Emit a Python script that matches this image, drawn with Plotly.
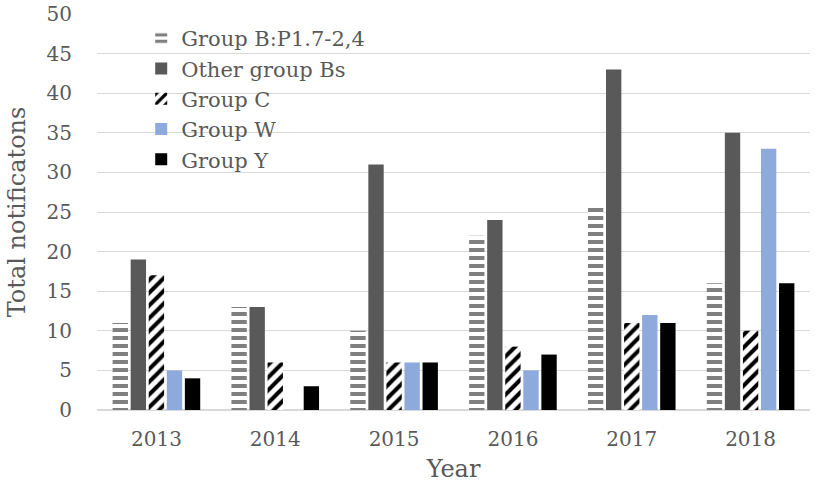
import plotly.graph_objects as go

years = ["2013", "2014", "2015", "2016", "2017", "2018"]
group_b_p17 = [11, 13, 10, 22, 26, 16]
other_group_bs = [19, 13, 31, 24, 43, 35]
group_c = [17, 6, 6, 8, 11, 10]
group_w = [5, 0, 6, 5, 12, 33]
group_y = [4, 3, 6, 7, 11, 16]

FONT = "DejaVu Serif"
TXT = "#595959"

fig = go.Figure()
fig.add_trace(go.Bar(
    name="Group B:P1.7-2,4", x=years, y=group_b_p17, legendgroup="a",
    marker=dict(color="white", line=dict(width=0),
                pattern=dict(shape="-", fgcolor="#808080", bgcolor="white",
                             size=8, solidity=0.5, fillmode="replace"))))
fig.add_trace(go.Bar(
    name="Other group Bs", x=years, y=other_group_bs, legendgroup="b",
    marker=dict(color="#595959", line=dict(width=0))))
fig.add_trace(go.Bar(
    name="Group C", x=years, y=group_c, legendgroup="c",
    marker=dict(color="white", line=dict(width=0),
                pattern=dict(shape="/", fgcolor="black", bgcolor="white",
                             size=9, solidity=0.45, fillmode="replace"))))
fig.add_trace(go.Bar(
    name="Group W", x=years, y=group_w, legendgroup="d",
    marker=dict(color="#8EA9DB", line=dict(width=0))))
fig.add_trace(go.Bar(
    name="Group Y", x=years, y=group_y, legendgroup="e",
    marker=dict(color="black", line=dict(width=0))))

fig.update_layout(
    width=824, height=488,
    margin=dict(l=97, r=14, t=14, b=78, autoexpand=False),
    paper_bgcolor="white", plot_bgcolor="white",
    barmode="group", bargap=0.24, bargroupgap=0.15,
    font=dict(family=FONT, color=TXT, size=20),
    legend=dict(x=0.062, y=0.99, xanchor="left", yanchor="top",
                bgcolor="rgba(255,255,255,0)", font=dict(size=21, color=TXT),
                tracegroupgap=0, itemwidth=30),
    xaxis=dict(showline=True, linecolor="#d9d9d9", linewidth=1, automargin=False,
               tickfont=dict(size=20, color=TXT), ticklabelstandoff=11,
               title=dict(text="Year", font=dict(size=24, color=TXT), standoff=10)),
    yaxis=dict(range=[0, 50], dtick=5, showgrid=True, gridcolor="#d9d9d9",
               zeroline=True, zerolinecolor="#d9d9d9", ticks="", automargin=False,
               tickfont=dict(size=20, color=TXT), ticklabelstandoff=24,
               title=dict(text="Total notificatons", font=dict(size=24, color=TXT), standoff=14)),
)

fig.write_html("out.html", config={"displayModeBar": False},
               post_script="document.body.style.margin='0px';")
